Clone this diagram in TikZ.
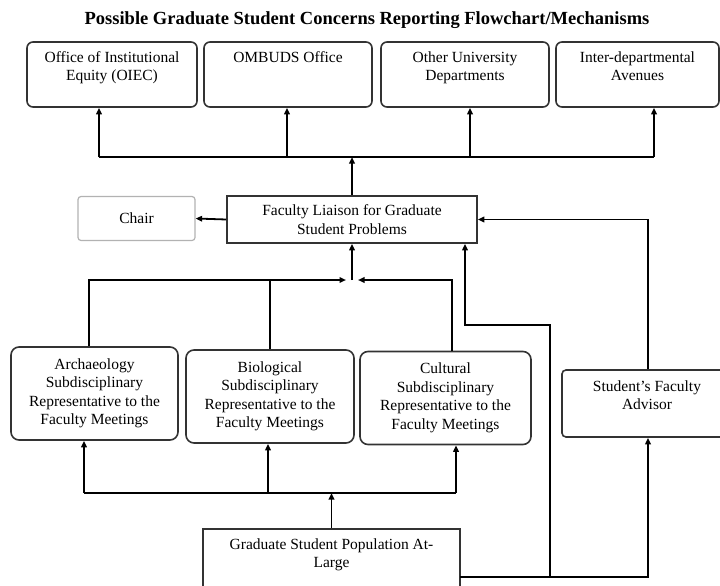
\documentclass[tikz,border=0pt]{standalone}
\usepackage{fontspec}
\setmainfont{Liberation Serif}
\usetikzlibrary{arrows.meta,positioning}

\begin{document}
\begin{tikzpicture}[
  x=1pt,y=-1pt,
  font=\fontsize{15.5}{18.5}\selectfont,
  office/.style={draw=black!80,line width=1.6pt,rounded corners=6pt,minimum height=65pt,inner sep=0pt},
  rep/.style={draw=black!80,line width=1.6pt,rounded corners=8pt,minimum height=93pt,inner sep=0pt,align=center},
  plainbox/.style={draw=black!80,line width=1.6pt,inner sep=0pt,align=center},
  chairbox/.style={draw=black!30,line width=1.2pt,rounded corners=3pt,minimum width=117pt,minimum height=44pt},
  boxtext/.style={align=center,inner sep=0pt},
  link/.style={line width=1.8pt},
  arr/.style={-{Triangle[length=6.5pt,width=5.5pt]},line width=1.8pt}
]
\clip (0,0) rectangle (720,586);

\node[font=\fontsize{18.5}{21}\selectfont\bfseries] (title) at (367,20)
  {Possible Graduate Student Concerns Reporting Flowchart/Mechanisms};

% top row of offices
\node[office,minimum width=170pt] (oiec) at (112,74.5) {};
\node[office,minimum width=168pt] (ombuds) at (288,74.5) {};
\node[office,minimum width=168pt] (otherdept) at (465,74.5) {};
\node[office,minimum width=163pt] (interdept) at (637.5,74.5) {};
\node[boxtext,below=10pt of oiec.north] (oiectext) {Office of Institutional\\Equity (OIEC)};
\node[boxtext,below=10pt of ombuds.north] (ombudstext) {OMBUDS Office};
\node[boxtext,below=10pt of otherdept.north] (otherdepttext) {Other University\\Departments};
\node[boxtext,below=10pt of interdept.north] (interdepttext) {Inter-departmental\\Avenues};

% liaison and chair
\node[plainbox,minimum width=250pt,minimum height=47pt] (liaison) at (352,219.5)
  {Faculty Liaison for Graduate\\Student Problems};
\node[chairbox] (chair) at (136.5,218.5) {Chair};

% subdisciplinary representatives
\node[rep,minimum width=167pt] (arch) at (94.5,393.5)
  {Archaeology\\Subdisciplinary\\Representative to the\\Faculty Meetings};
\node[rep,minimum width=168pt] (bio) at (270,396.5)
  {Biological\\Subdisciplinary\\Representative to the\\Faculty Meetings};
\node[rep,minimum width=171pt] (cult) at (445.5,398)
  {Cultural\\Subdisciplinary\\Representative to the\\Faculty Meetings};
\node[plainbox,rounded corners=4pt,minimum width=170pt,minimum height=67pt] (advisor) at (647,403.5) {};
\node[boxtext,below=11pt of advisor.north] (advisortext) {Student's Faculty\\Advisor};

% student population
\node[plainbox,minimum width=257pt,minimum height=80pt] (grad) at (331.5,569) {};
\node[boxtext,below=10pt of grad.north] (gradtext) {Graduate Student Population At-\\Large};

% bus to the offices
\coordinate (drop1) at (99,157);
\coordinate (drop2) at (287,157);
\coordinate (drop3) at (470,157);
\coordinate (drop4) at (654,157);
\draw[link] (drop1) -- (drop4);
\draw[arr] (drop1) -- (drop1 |- oiec.south);
\draw[arr] (drop2) -- (drop2 |- ombuds.south);
\draw[arr] (drop3) -- (drop3 |- otherdept.south);
\draw[arr] (drop4) -- (drop4 |- interdept.south);
\draw[arr] (liaison.north) -- (liaison.north |- drop1);
\draw[arr] (liaison.west) -- (chair.east);

% representatives up to the liaison
\coordinate (upL) at (89,280);
\coordinate (upM) at (270,280);
\coordinate (upR) at (452,280);
\coordinate (meetL) at (346,280);
\coordinate (meetR) at (358,280);
\draw[arr] (arch.north -| upL) -- (upL) -- (meetL);
\draw[link] (bio.north -| upM) -- (upM);
\draw[arr] (cult.north -| upR) -- (upR) -- (meetR);
\draw[arr] (liaison.south |- upL) -- (liaison.south);

% population up to the representatives
\coordinate (feedL) at (84,493);
\coordinate (feedM) at (268,493);
\coordinate (feedR) at (456,493);
\draw[link] (feedL) -- (feedR);
\draw[arr] (feedL) -- (feedL |- arch.south);
\draw[arr] (feedM) -- (feedM |- bio.south);
\draw[arr] (feedR) -- (feedR |- cult.south);
\draw[arr] (grad.north) -- (grad.north |- feedL);

% direct routes on the right
\coordinate (gradout) at (460,577);
\coordinate (advx) at (648,577);
\coordinate (riseB) at (550,577);
\coordinate (bendT) at (465,325);
\draw[arr] (gradout) -| (advisor.south -| advx);
\draw[arr] (advisor.north -| advx) |- (liaison.east);
\draw[arr] (riseB) |- (bendT) -- (bendT |- liaison.south);
\end{tikzpicture}
\end{document}
